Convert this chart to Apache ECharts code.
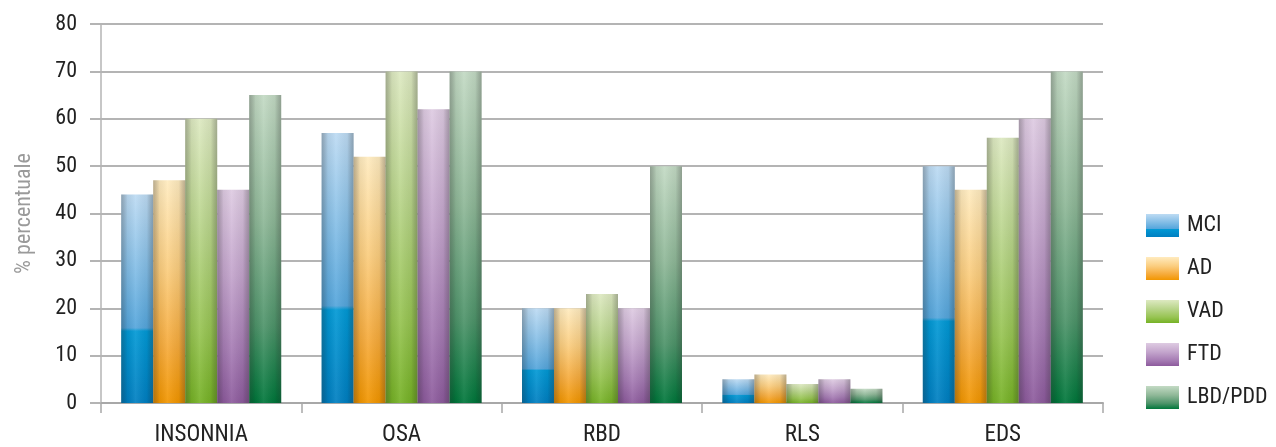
<!DOCTYPE html>
<html>
<head>
<meta charset="utf-8">
<script src="https://cdn.jsdelivr.net/npm/echarts@6/dist/echarts.min.js"></script>
<style>
  html, body { margin: 0; padding: 0; background: #fff; }
  #chart { width: 1276px; height: 447px; }
</style>
</head>
<body>
<div id="chart"></div>
<script>
// Categories and values (% of patients) per diagnostic group
const categories = ['INSONNIA', 'OSA', 'RBD', 'RLS', 'EDS'];
const groupNames = ['MCI', 'AD', 'VAD', 'FTD', 'LBD/PDD'];
const MCI = [44, 57, 20, 5, 50];
const AD  = [47, 52, 20, 6, 45];
const VAD = [60, 70, 23, 4, 56];
const FTD = [45, 62, 20, 5, 60];
const LBD = [65, 70, 50, 3, 70];
const yTicks = [0, 10, 20, 30, 40, 50, 60, 70, 80];

const values = [MCI, AD, VAD, FTD, LBD];

// vertical colour stops per group, top (light) to bottom (saturated)
const fills = [
  [[0, '#bddbf3'], [0.64, '#55a6dc'], [0.655, '#0299d5'], [1, '#007fc1']],
  [[0, '#ffebbf'], [0.4, '#fbcd7e'], [0.75, '#f6aa3a'], [1, '#f29600']],
  [[0, '#dde9c1'], [0.4, '#b7d488'], [0.75, '#97c452'], [1, '#76b226']],
  [[0, '#decbe2'], [0.4, '#c3a4cc'], [0.75, '#a67cb4'], [1, '#8d5b9d']],
  [[0, '#c3dac4'], [0.4, '#8fb898'], [0.75, '#4e946a'], [1, '#00773b']]
];

function vGrad(stops) {
  return new echarts.graphic.LinearGradient(0, 0, 0, 1,
    stops.map(s => ({ offset: s[0], color: s[1] })));
}

// darker edges give the bars a rounded look
const edgeShade = new echarts.graphic.LinearGradient(0, 0, 1, 0, [
  { offset: 0, color: 'rgba(40,40,40,0.32)' },
  { offset: 0.2, color: 'rgba(0,0,0,0.06)' },
  { offset: 0.45, color: 'rgba(255,255,255,0.08)' },
  { offset: 0.8, color: 'rgba(0,0,0,0.06)' },
  { offset: 1, color: 'rgba(40,40,40,0.32)' }
]);

const font = '"Liberation Sans Narrow", "Roboto Condensed", Roboto, sans-serif';

const baseSeries = groupNames.map((name, i) => ({
  name: name,
  type: 'bar',
  xAxisIndex: 0,
  yAxisIndex: 0,
  data: values[i],
  barWidth: 32,
  barGap: '0%',
  itemStyle: { color: vGrad(fills[i]) },
  emphasis: { disabled: true }
}));

const shadeSeries = groupNames.map((name, i) => ({
  name: 'shade-' + i,
  type: 'bar',
  xAxisIndex: 1,
  yAxisIndex: 1,
  data: values[i],
  barWidth: 32,
  barGap: '0%',
  itemStyle: { color: edgeShade },
  silent: true,
  z: 3
}));

const chart = echarts.init(document.getElementById('chart'), null, { renderer: 'canvas' });
chart.setOption({
  animation: false,
  grid: [
    { left: 101, right: 173, top: 24, bottom: 44 },
    { left: 101, right: 173, top: 24, bottom: 44 }
  ],
  legend: {
    data: groupNames,
    orient: 'vertical',
    left: 1141,
    top: 209,
    itemWidth: 33,
    itemHeight: 23,
    itemGap: 20,
    icon: 'rect',
    textStyle: { fontFamily: font, fontSize: 22, color: '#222', padding: [0, 0, 0, 3] }
  },
  xAxis: [
    {
      type: 'category',
      gridIndex: 0,
      data: categories,
      axisLine: { lineStyle: { color: '#a8a8a8', width: 2 } },
      axisTick: { show: true, length: 10, lineStyle: { color: '#a8a8a8', width: 1.5 } },
      axisLabel: { fontFamily: font, fontSize: 23, color: '#222', margin: 21 }
    },
    {
      type: 'category',
      gridIndex: 1,
      data: categories,
      show: false
    }
  ],
  yAxis: [
    {
      type: 'value',
      gridIndex: 0,
      min: yTicks[0],
      max: yTicks[yTicks.length - 1],
      interval: 10,
      name: '% percentuale',
      nameLocation: 'middle',
      nameGap: 66,
      nameTextStyle: { fontFamily: font, fontSize: 22, color: '#9a9a9a' },
      axisLine: { show: true, lineStyle: { color: '#b4b4b4', width: 1.5 } },
      axisTick: { show: true, length: 11, lineStyle: { color: '#b4b4b4', width: 2 } },
      axisLabel: { fontFamily: font, fontSize: 22, color: '#222', margin: 24 },
      splitLine: { lineStyle: { color: '#b4b4b4', width: 2 } }
    },
    {
      type: 'value',
      gridIndex: 1,
      min: yTicks[0],
      max: yTicks[yTicks.length - 1],
      interval: 10,
      show: false,
      splitLine: { show: false }
    }
  ],
  series: baseSeries.concat(shadeSeries)
});
</script>
</body>
</html>
